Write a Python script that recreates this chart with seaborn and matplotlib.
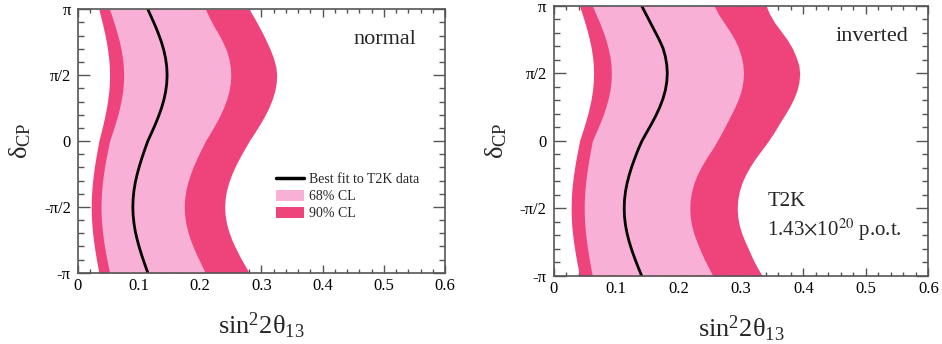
import numpy as np
import pandas as pd
import matplotlib
matplotlib.use("Agg")
import matplotlib.pyplot as plt
import seaborn as sns
from matplotlib.lines import Line2D
from matplotlib.patches import Patch
from matplotlib.ticker import MultipleLocator

# delta_CP grid, -pi .. pi in steps of pi/16 (as fractions of pi)
delta_frac = [-1, -0.9375, -0.875, -0.8125, -0.75, -0.6875, -0.625, -0.5625, -0.5,
              -0.4375, -0.375, -0.3125, -0.25, -0.1875, -0.125, -0.0625, 0,
              0.0625, 0.125, 0.1875, 0.25, 0.3125, 0.375, 0.4375, 0.5,
              0.5625, 0.625, 0.6875, 0.75, 0.8125, 0.875, 0.9375, 1]

# normal hierarchy: contour edges in sin^2 2theta13
nh_90_left = [0.0345, 0.0321, 0.0297, 0.0275, 0.0257, 0.0241, 0.0230, 0.0222, 0.0220,
              0.0222, 0.0230, 0.0241, 0.0257, 0.0275, 0.0297, 0.0321, 0.0345,
              0.0379, 0.0412, 0.0442, 0.0469, 0.0490, 0.0507, 0.0517, 0.0520,
              0.0517, 0.0507, 0.0490, 0.0469, 0.0442, 0.0412, 0.0379, 0.0345]
nh_68_left = [0.0520, 0.0493, 0.0466, 0.0442, 0.0421, 0.0404, 0.0391, 0.0383, 0.0380,
              0.0383, 0.0391, 0.0404, 0.0421, 0.0442, 0.0466, 0.0493, 0.0520,
              0.0565, 0.0608, 0.0648, 0.0683, 0.0711, 0.0733, 0.0746, 0.0750,
              0.0746, 0.0733, 0.0711, 0.0683, 0.0648, 0.0608, 0.0565, 0.0520]
nh_best = [0.1145, 0.1097, 0.1051, 0.1009, 0.0972, 0.0941, 0.0919, 0.0905, 0.0900,
           0.0905, 0.0919, 0.0941, 0.0972, 0.1009, 0.1051, 0.1097, 0.1145,
           0.1206, 0.1266, 0.1320, 0.1368, 0.1407, 0.1436, 0.1454, 0.1460,
           0.1454, 0.1436, 0.1407, 0.1368, 0.1320, 0.1266, 0.1206, 0.1145]
nh_68_right = [0.2085, 0.2018, 0.1953, 0.1893, 0.1841, 0.1798, 0.1766, 0.1747, 0.1740,
               0.1747, 0.1766, 0.1798, 0.1841, 0.1893, 0.1953, 0.2018, 0.2085,
               0.2166, 0.2244, 0.2316, 0.2378, 0.2430, 0.2468, 0.2492, 0.2500,
               0.2492, 0.2468, 0.2430, 0.2370, 0.2300, 0.2220, 0.2150, 0.2085]
nh_90_right = [0.2800, 0.2722, 0.2647, 0.2578, 0.2517, 0.2468, 0.2430, 0.2408, 0.2400,
               0.2408, 0.2430, 0.2468, 0.2517, 0.2578, 0.2647, 0.2722, 0.2800,
               0.2888, 0.2972, 0.3050, 0.3118, 0.3174, 0.3216, 0.3241, 0.3250,
               0.3236, 0.3200, 0.3150, 0.3090, 0.3025, 0.2955, 0.2880, 0.2800]

# inverted hierarchy
ih_90_left = [0.0415, 0.0389, 0.0363, 0.0340, 0.0320, 0.0303, 0.0290, 0.0283, 0.0280,
              0.0283, 0.0290, 0.0303, 0.0320, 0.0340, 0.0363, 0.0389, 0.0415,
              0.0459, 0.0501, 0.0540, 0.0574, 0.0602, 0.0623, 0.0636, 0.0640,
              0.0636, 0.0623, 0.0602, 0.0574, 0.0540, 0.0501, 0.0459, 0.0415]
ih_68_left = [0.0620, 0.0595, 0.0570, 0.0548, 0.0528, 0.0512, 0.0500, 0.0492, 0.0490,
              0.0492, 0.0500, 0.0512, 0.0528, 0.0548, 0.0570, 0.0595, 0.0620,
              0.0679, 0.0737, 0.0790, 0.0836, 0.0873, 0.0902, 0.0919, 0.0925,
              0.0919, 0.0902, 0.0873, 0.0836, 0.0790, 0.0737, 0.0679, 0.0620]
ih_best = [0.1410, 0.1355, 0.1303, 0.1254, 0.1212, 0.1177, 0.1151, 0.1135, 0.1130,
           0.1135, 0.1151, 0.1177, 0.1212, 0.1254, 0.1303, 0.1355, 0.1415,
           0.1490, 0.1567, 0.1638, 0.1700, 0.1751, 0.1789, 0.1812, 0.1820,
           0.1812, 0.1789, 0.1751, 0.1690, 0.1620, 0.1550, 0.1480, 0.1410]
ih_68_right = [0.2550, 0.2480, 0.2410, 0.2350, 0.2294, 0.2246, 0.2210, 0.2187, 0.2180,
               0.2187, 0.2210, 0.2246, 0.2300, 0.2370, 0.2450, 0.2540, 0.2620,
               0.2695, 0.2765, 0.2835, 0.2902, 0.2961, 0.3004, 0.3031, 0.3040,
               0.3031, 0.3004, 0.2961, 0.2900, 0.2820, 0.2730, 0.2640, 0.2570]
ih_90_right = [0.3340, 0.3260, 0.3190, 0.3130, 0.3069, 0.3014, 0.2973, 0.2948, 0.2940,
               0.2948, 0.2973, 0.3014, 0.3075, 0.3150, 0.3240, 0.3340, 0.3440,
               0.3530, 0.3610, 0.3695, 0.3776, 0.3845, 0.3897, 0.3929, 0.3940,
               0.3925, 0.3880, 0.3820, 0.3740, 0.3640, 0.3540, 0.3460, 0.3400]

ytick_labels = ["-π", "-π/2", "0", "π/2", "π"]
xtick_labels = ["0", "0.1", "0.2", "0.3", "0.4", "0.5", "0.6"]

LIGHT = "#F9B0D6"
DARK = "#EF437B"
FRAME = "#555555"

sns.set_theme(style="ticks")
plt.rcParams["font.family"] = ["Liberation Serif", "DejaVu Serif"]
plt.rcParams["mathtext.fontset"] = "stix"

fig = plt.figure(figsize=(9.42, 3.44), dpi=100)
ax_l = fig.add_axes([0.0825, 0.207, 0.390, 0.766])
ax_r = fig.add_axes([0.5877, 0.198, 0.3978, 0.785])


def draw_panel(ax, l90, l68, best, r68, r90):
    delta = np.array(delta_frac) * np.pi
    ax.fill_betweenx(delta, l90, r90, color=DARK, lw=0)
    ax.fill_betweenx(delta, l68, r68, color=LIGHT, lw=0)
    df = pd.DataFrame({"s2t": best, "dcp": delta})
    sns.lineplot(data=df, x="s2t", y="dcp", orient="y", sort=True,
                 color="black", lw=2.0, ax=ax)

    ax.set_xlim(0, 0.6)
    ax.set_ylim(-np.pi, np.pi)
    ax.set_xticks(np.arange(0, 0.61, 0.1))
    ax.set_xticklabels(xtick_labels)
    ax.set_yticks(np.arange(-2, 3) * np.pi / 2)
    ax.set_yticklabels(ytick_labels)
    ax.xaxis.set_minor_locator(MultipleLocator(0.02))
    ax.yaxis.set_minor_locator(MultipleLocator(np.pi / 10))
    ax.tick_params(axis="both", which="both", direction="in",
                   top=True, right=True, colors=FRAME, labelcolor="black",
                   labelsize=12)
    ax.tick_params(axis="y", which="major", length=8.5, width=1.0, pad=5)
    ax.tick_params(axis="y", which="minor", length=4.5, width=1.0)
    ax.tick_params(axis="x", which="major", length=5.5, width=1.0, pad=4)
    ax.tick_params(axis="x", which="minor", length=3.0, width=1.0)
    for sp in ax.spines.values():
        sp.set_color(FRAME)
        sp.set_linewidth(1.2)

    ax.set_xlabel(r"$\mathregular{sin^{2}2\theta_{13}}$", fontsize=19, labelpad=12)
    ax.set_ylabel(r"$\mathregular{\delta_{CP}}$", fontsize=19, labelpad=8)


draw_panel(ax_l, nh_90_left, nh_68_left, nh_best, nh_68_right, nh_90_right)
draw_panel(ax_r, ih_90_left, ih_68_left, ih_best, ih_68_right, ih_90_right)

ax_l.text(0.835, 0.885, "normal", transform=ax_l.transAxes, fontsize=16,
          ha="center", va="center")
ax_r.text(0.85, 0.885, "inverted", transform=ax_r.transAxes, fontsize=16,
          ha="center", va="center")

ax_r.text(0.57, 0.275, "T2K", transform=ax_r.transAxes, fontsize=15,
          ha="left", va="center")
ax_r.text(0.57, 0.17, r"1.43$\times$10$^{20}$ p.o.t.", transform=ax_r.transAxes,
          fontsize=15, ha="left", va="center")

handles = [
    Line2D([0], [0], color="black", lw=2.5),
    Patch(facecolor=LIGHT, edgecolor="none"),
    Patch(facecolor=DARK, edgecolor="none"),
]
ax_l.legend(handles, ["Best fit to T2K data", "68% CL", "90% CL"],
            loc="upper left", bbox_to_anchor=(0.54, 0.38), frameon=False,
            fontsize=10, handlelength=2.0, handleheight=0.8,
            handletextpad=0.4, labelspacing=0.3, borderpad=0, borderaxespad=0)

fig.savefig("out.png", dpi=100)
